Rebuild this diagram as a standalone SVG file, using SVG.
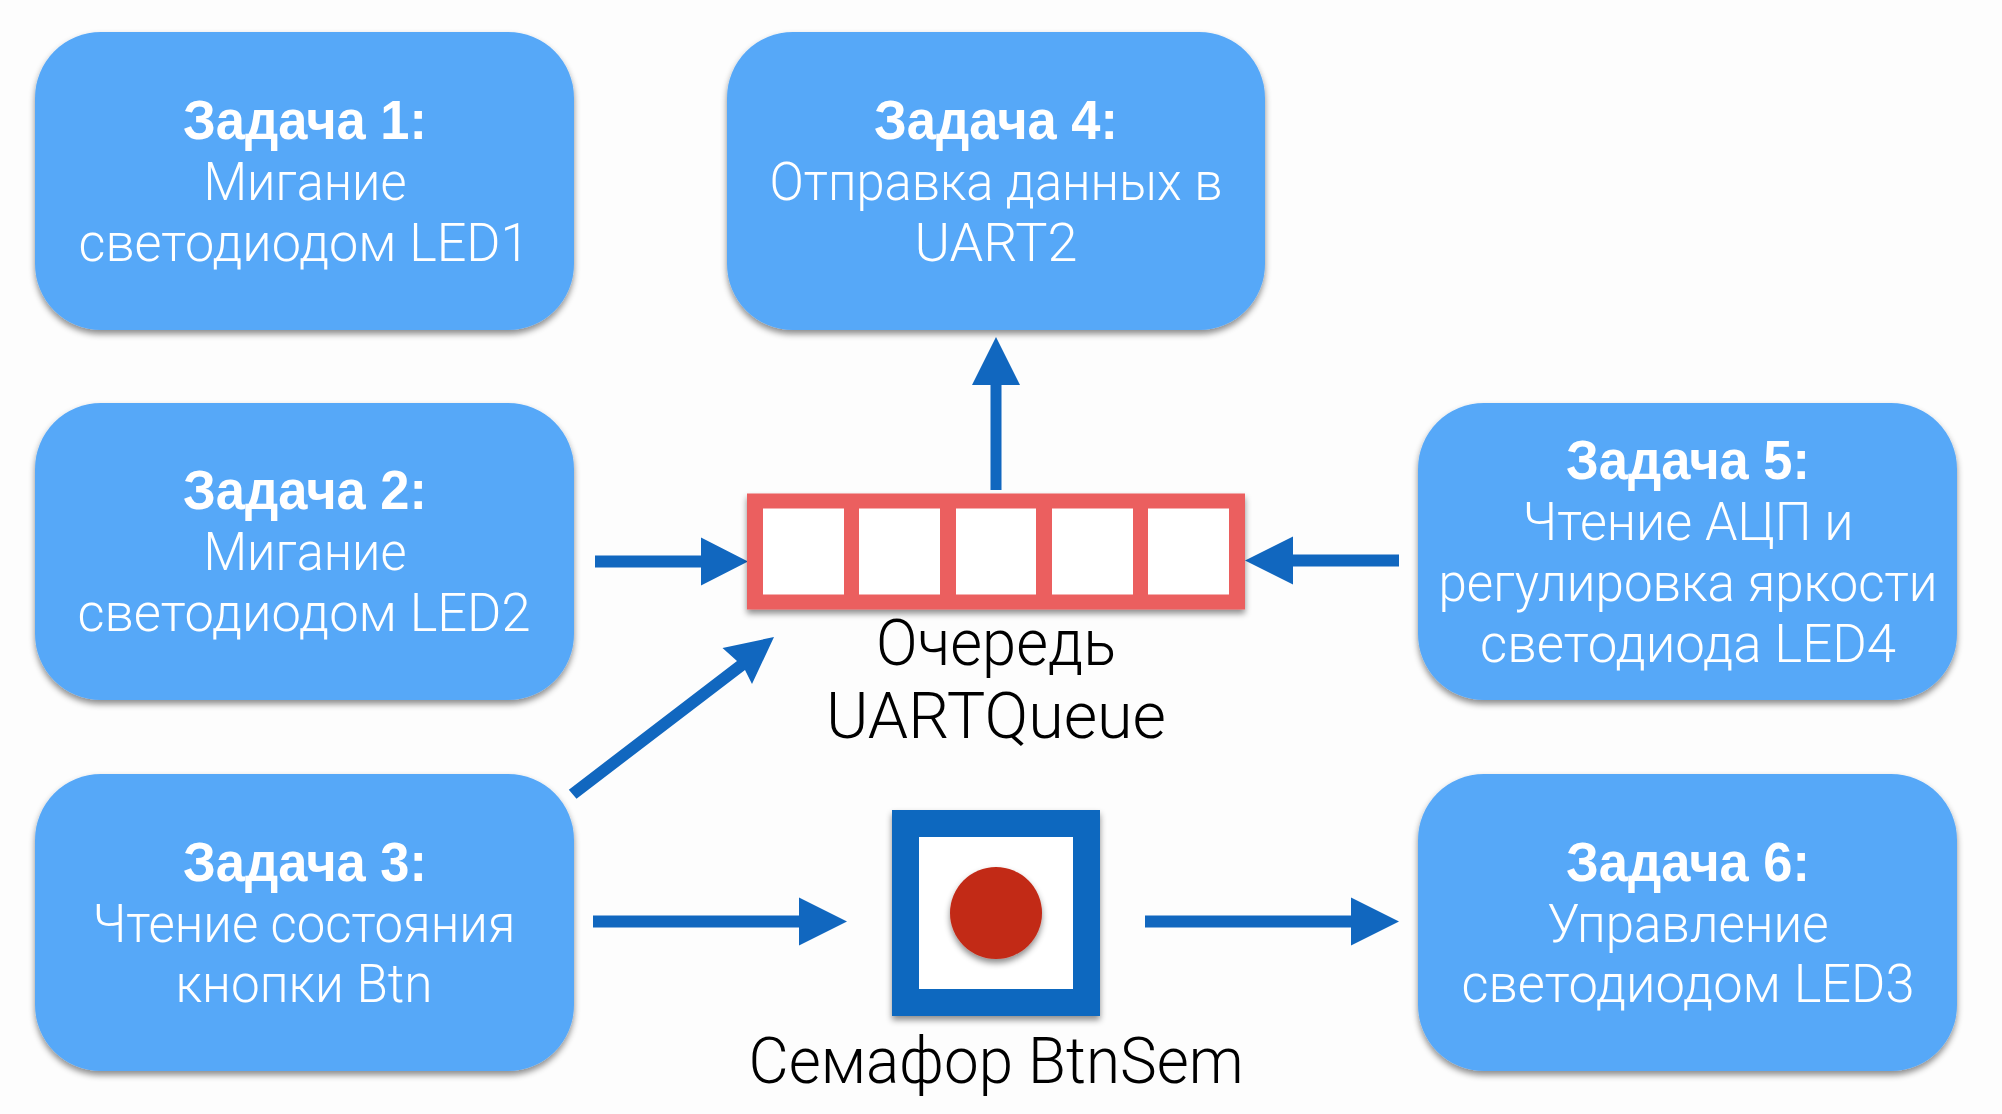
<svg xmlns="http://www.w3.org/2000/svg" width="2002" height="1114" viewBox="0 0 2002 1114">
<defs>
<style>
text{font-family:"Liberation Sans",Arial,sans-serif;text-anchor:middle}
.t{fill:#fff;font-size:55px;font-weight:700}
.l{fill:#fff;font-size:53px;font-family:Roboto,"Liberation Sans",sans-serif;font-weight:300}
.k{fill:#000;font-size:64px;font-family:Roboto,"Liberation Sans",sans-serif;font-weight:300}
.box{fill:#57a8f8;filter:url(#s)}
.cell{fill:#fff}
.a{fill:#1167bf}
</style>
<filter id="s" x="-10%" y="-10%" width="120%" height="125%"><feDropShadow dx="0" dy="4" stdDeviation="3" flood-color="#000" flood-opacity="0.45"/></filter>
</defs>
<rect width="2002" height="1114" fill="#fdfdfd"/>
<g id="connectors">
<polygon id="c-up" class="a" points="990.5,490 1001.5,490 1001.5,385 1020,385 996,337 972,385 990.5,385"/>
<polygon id="c-left" class="a" points="595,555.5 701,555.5 701,537.5 748,561.5 701,585.5 701,567.5 595,567.5"/>
<polygon id="c-right" class="a" points="1399,554.5 1293,554.5 1293,536.5 1245,560.5 1293,584.5 1293,566.5 1399,566.5"/>
<polygon id="c-diag" class="a" points="568.8,789.7 576.5,798.7 745,670 752,684 774,637 722.5,648 737,661"/>
<polygon id="c-sem-in" class="a" points="593,915.5 799,915.5 799,897.5 847,921.5 799,945.5 799,927.5 593,927.5"/>
<polygon id="c-sem-out" class="a" points="1145,915.5 1351,915.5 1351,897.5 1399,921.5 1351,945.5 1351,927.5 1145,927.5"/>
</g>
<g id="task1"><rect class="box" x="35" y="32" width="539" height="298" rx="66" ry="66"/>
<text class="t" x="305" y="139" textLength="244" lengthAdjust="spacingAndGlyphs">Задача 1:</text>
<text class="l" x="305" y="200" textLength="203" lengthAdjust="spacingAndGlyphs">Мигание</text>
<text class="l" x="304" y="261" textLength="451" lengthAdjust="spacingAndGlyphs">светодиодом LED1</text></g>
<g id="task2"><rect class="box" x="35" y="403" width="539" height="297" rx="66" ry="66"/>
<text class="t" x="305" y="509" textLength="244" lengthAdjust="spacingAndGlyphs">Задача 2:</text>
<text class="l" x="305" y="570" textLength="203" lengthAdjust="spacingAndGlyphs">Мигание</text>
<text class="l" x="304" y="631" textLength="453" lengthAdjust="spacingAndGlyphs">светодиодом LED2</text></g>
<g id="task3"><rect class="box" x="35" y="774" width="539" height="297" rx="66" ry="66"/>
<text class="t" x="305" y="881" textLength="244" lengthAdjust="spacingAndGlyphs">Задача 3:</text>
<text class="l" x="304" y="942" textLength="423" lengthAdjust="spacingAndGlyphs">Чтение состояния</text>
<text class="l" x="304" y="1002" textLength="257" lengthAdjust="spacingAndGlyphs">кнопки Btn</text></g>
<g id="task4"><rect class="box" x="727" y="32" width="538" height="298" rx="66" ry="66"/>
<text class="t" x="996" y="139" textLength="244" lengthAdjust="spacingAndGlyphs">Задача 4:</text>
<text class="l" x="996" y="200" textLength="453" lengthAdjust="spacingAndGlyphs">Отправка данных в</text>
<text class="l" x="996" y="261" textLength="163" lengthAdjust="spacingAndGlyphs">UART2</text></g>
<g id="task5"><rect class="box" x="1418" y="403" width="539" height="297" rx="66" ry="66"/>
<text class="t" x="1688" y="479" textLength="244" lengthAdjust="spacingAndGlyphs">Задача 5:</text>
<text class="l" x="1688" y="540" textLength="331" lengthAdjust="spacingAndGlyphs">Чтение АЦП и</text>
<text class="l" x="1688" y="601" textLength="499" lengthAdjust="spacingAndGlyphs">регулировка яркости</text>
<text class="l" x="1688" y="662" textLength="416" lengthAdjust="spacingAndGlyphs">светодиода LED4</text></g>
<g id="task6"><rect class="box" x="1418" y="774" width="539" height="297" rx="66" ry="66"/>
<text class="t" x="1688" y="881" textLength="244" lengthAdjust="spacingAndGlyphs">Задача 6:</text>
<text class="l" x="1688" y="942" textLength="281" lengthAdjust="spacingAndGlyphs">Управление</text>
<text class="l" x="1688" y="1002" textLength="453" lengthAdjust="spacingAndGlyphs">светодиодом LED3</text></g>
<g id="queue"><rect x="747" y="493.5" width="498" height="116" fill="#eb5e5e" filter="url(#s)"/>
<rect class="cell" x="763" y="508.5" width="81" height="86"/>
<rect class="cell" x="859" y="508.5" width="81" height="86"/>
<rect class="cell" x="956" y="508.5" width="80" height="86"/>
<rect class="cell" x="1052" y="508.5" width="81" height="86"/>
<rect class="cell" x="1148" y="508.5" width="81" height="86"/>
<text class="k" x="996" y="665" textLength="240" lengthAdjust="spacingAndGlyphs">Очередь</text>
<text class="k" x="996" y="738" textLength="340" lengthAdjust="spacingAndGlyphs">UARTQueue</text></g>
<g id="semaphore"><rect x="892" y="810" width="208" height="206" fill="#1167bf" filter="url(#s)"/>
<rect class="cell" x="919" y="837" width="154" height="152"/>
<circle cx="996" cy="913" r="46" fill="#c22916" filter="url(#s)"/>
<text class="k" x="996" y="1083" textLength="495" lengthAdjust="spacingAndGlyphs">Семафор BtnSem</text></g>
</svg>
